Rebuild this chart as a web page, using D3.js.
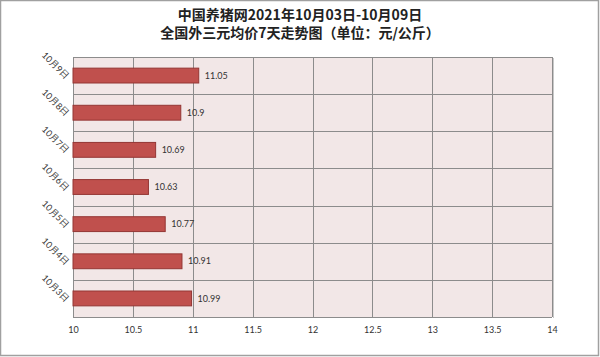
<!DOCTYPE html>
<html>
<head>
<meta charset="utf-8">
<script src="https://cdn.jsdelivr.net/npm/d3@7"></script>
<style>
  body { margin: 0; background: #fff; }
  text { font-family: Lato, "Noto Sans", sans-serif; }
</style>
</head>
<body>
<div id="chart"></div>
<script>
// datos (de arriba hacia abajo)
const categorias = ["10月9日", "10月8日", "10月7日", "10月6日", "10月5日", "10月4日", "10月3日"];
const precios = [11.05, 10.9, 10.69, 10.63, 10.77, 10.91, 10.99];
const ticksX = [10, 10.5, 11, 11.5, 12, 12.5, 13, 13.5, 14];
const titulo1 = "中国养猪网2021年10月03日-10月09日";
const titulo2 = "全国外三元均价7天走势图（单位：元/公斤）";

const W = 600, H = 357;
const margin = { top: 57, right: 48, bottom: 40, left: 73 },
    width = W - margin.left - margin.right,
    height = H - margin.top - margin.bottom;

const svg = d3.select("#chart").append("svg")
    .attr("width", W)
    .attr("height", H);

// marco exterior
svg.append("rect")
    .attr("x", 0.5).attr("y", 0.5)
    .attr("width", W - 2).attr("height", H - 2)
    .attr("fill", "#fff")
    .attr("stroke", "#a0a0a0")
    .attr("stroke-width", 1.5);

// titulos
const tit = svg.append("text")
    .attr("text-anchor", "middle")
    .style("font-family", "'Noto Sans CJK SC'")
    .style("font-weight", "bold")
    .style("font-size", "14px")
    .attr("fill", "#222");
tit.append("tspan").attr("x", W / 2).attr("y", 20).text(titulo1);
tit.append("tspan").attr("x", W / 2).attr("y", 38).text(titulo2);

const g = svg.append("g")
    .attr("transform", "translate(" + margin.left + "," + margin.top + ")");

const x = d3.scaleLinear().domain([10, 14]).range([0, width]);
const y = d3.scaleBand().domain(categorias).range([0, height]).paddingInner(0.6).paddingOuter(0.3);
const yRow = d3.scaleBand().domain(categorias).range([0, height]);

// fondo del area de trazado
g.append("rect")
    .attr("width", width).attr("height", height)
    .attr("fill", "#f2e7e7");

// lineas de cuadricula verticales
g.selectAll(".vgrid")
    .data(ticksX)
    .enter().append("line")
    .attr("x1", d => Math.round(x(d)) + 0.5)
    .attr("x2", d => Math.round(x(d)) + 0.5)
    .attr("y1", 0).attr("y2", height)
    .attr("stroke", "#8c8c8c");

// lineas horizontales
g.selectAll(".hgrid")
    .data(categorias.concat(["fin"]))
    .enter().append("line")
    .attr("x1", 0).attr("x2", width)
    .attr("y1", (d, i) => Math.round(i * yRow.step()) + 0.5)
    .attr("y2", (d, i) => Math.round(i * yRow.step()) + 0.5)
    .attr("stroke", "#8c8c8c");

// sombra del borde derecho
g.append("line")
    .attr("x1", width + 1.5).attr("x2", width + 1.5)
    .attr("y1", 1).attr("y2", height + 1)
    .attr("stroke", "#c8c8c8");

// barras
g.selectAll(".bar")
    .data(precios)
    .enter().append("rect")
    .attr("x", x(10))
    .attr("y", (d, i) => y(categorias[i]))
    .attr("width", d => x(d) - x(10))
    .attr("height", y.bandwidth())
    .attr("fill", "#c0504d")
    .attr("stroke", "#943634")
    .attr("stroke-width", 1);

// etiquetas de valor
g.selectAll(".valor")
    .data(precios)
    .enter().append("text")
    .attr("x", d => x(d) + 6)
    .attr("y", (d, i) => y(categorias[i]) + y.bandwidth() / 2)
    .attr("dy", "0.35em")
    .style("font-size", "9px")
    .attr("fill", "#333")
    .text(d => d);

// eje x
const xAxis = d3.axisBottom(x).tickValues(ticksX).tickSize(0).tickPadding(10)
    .tickFormat(d => d);
g.append("g")
    .attr("transform", "translate(0," + height + ")")
    .call(xAxis)
    .call(s => s.select(".domain").remove())
    .selectAll("text")
    .style("font-size", "9px")
    .attr("fill", "#333");

// etiquetas de categoria (rotadas 45 grados)
g.selectAll(".cat")
    .data(categorias)
    .enter().append("text")
    .attr("transform", d => "translate(-8," + (yRow(d) + yRow.step() / 2 + 4) + ") rotate(45)")
    .attr("text-anchor", "end")
    .style("font-size", "9px")
    .attr("fill", "#333")
    .text(d => d);
</script>
</body>
</html>
